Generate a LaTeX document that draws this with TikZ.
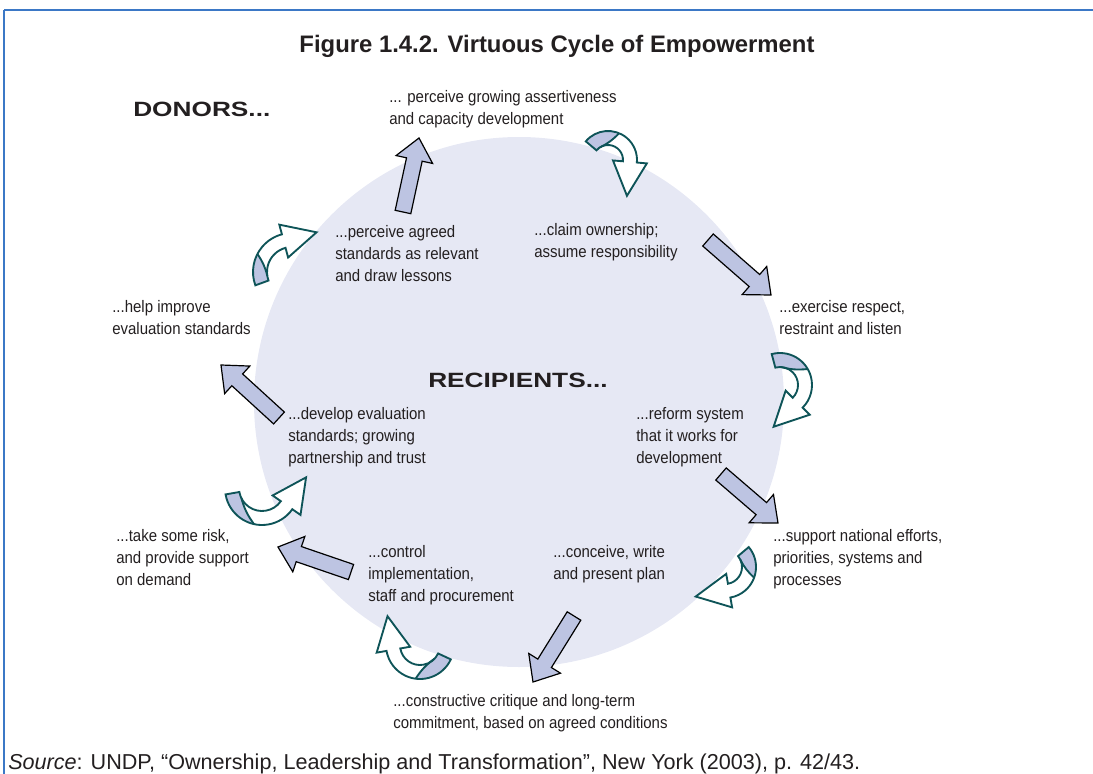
\documentclass[tikz,border=0pt]{standalone}
\usepackage{fontspec}
\setmainfont{Liberation Sans}
\newfontfamily\condf[FakeStretch=0.9]{Liberation Sans}
\newfontfamily\extf[FakeStretch=1.27]{Liberation Sans}
\usetikzlibrary{calc}
\definecolor{circfill}{HTML}{E6E8F4}
\definecolor{arrfill}{HTML}{BDC4E2}
\definecolor{tealc}{HTML}{0E5458}
\definecolor{framec}{HTML}{3B78C6}
\definecolor{txt}{HTML}{231F20}
\tikzset{
  lbl/.style={font=\condf\fontsize{12.5}{16.5}\selectfont, align=left, anchor=base west, inner sep=0pt, text=txt},
  headlbl/.style={font=\extf\bfseries\fontsize{15.5}{18}\selectfont, anchor=base west, inner sep=0pt, text=txt},
  blockarrow/.style={draw=black, fill=arrfill, line width=0.9pt, line join=miter},
  tealarrow/.style={draw=tealc, line width=1.4pt, line join=miter}
}
\newcommand\blockarr[2]{%
  \path ($(#2)!16.5pt!(#1)$) coordinate (#1c);
  \draw[blockarrow] ($(#1)!6pt!90:(#2)$) -- ($(#1c)!6pt!90:(#2)$) -- ($(#1c)!14pt!90:(#2)$) -- (#2)
     -- ($(#1c)!14pt!-90:(#2)$) -- ($(#1c)!6pt!-90:(#2)$) -- ($(#1)!6pt!-90:(#2)$) -- cycle;}
% #1 cx #2 cy #3 r #4 th0 #5 th1 #6 dir
\newcommand\curvarr[6]{%
  \begin{scope}[shift={(#1,#2)}]
  \pgfmathsetmacro\cro{#3+7}
  \pgfmathsetmacro\cri{#3-7}
  \pgfmathsetmacro\cwo{#3+17}
  \pgfmathsetmacro\cwi{#3-17}
  \pgfmathsetmacro\cmid{#4+0.5*(#5-#4)}
  \pgfmathsetmacro\ctw{#4+0.12*(#5-#4)}
  \pgfmathsetmacro\ctan{#5+90*#6}
  \pgfmathsetmacro\tipx{#3*cos(#5)+34*cos(\ctan)}
  \pgfmathsetmacro\tipy{#3*sin(#5)+34*sin(\ctan)}
  \def\cshape{(#4:\cro) arc[start angle=#4,end angle=#5,radius=\cro] -- (#5:\cwo) -- (\tipx,\tipy) -- (#5:\cwi) -- (#5:\cri) arc[start angle=#5,end angle=#4,radius=\cri] -- cycle}
  \fill[white] \cshape;
  \fill[arrfill] (#4:\cro) arc[start angle=#4,end angle=\cmid,radius=\cro] to[bend left=10] (\ctw:\cri) arc[start angle=\ctw,end angle=#4,radius=\cri] -- cycle;
  \draw[tealarrow] (\cmid:\cro) to[bend left=10] (\ctw:\cri);
  \draw[tealarrow] \cshape;
  \end{scope}}
\begin{document}
\begin{tikzpicture}[x=0.75pt,y=-0.75pt]
\useasboundingbox (0,0) rectangle (1093,774);
% frame
\draw[framec, line width=1.8pt] (4,10) -- (1093,10);
\draw[framec, line width=1pt] (4,10) -- (4,774);
% circle
\fill[circfill] (519,402) circle[radius=265];
% title
\node[font=\bfseries\fontsize{17.9}{20}\selectfont, text=txt, anchor=base, inner sep=0pt] (title) at (557,53) {Figure 1.4.2. Virtuous Cycle of Empowerment};
\node[headlbl] (donors) at (133,117) {DONORS...};
\node[headlbl] (recip) at (428,387) {RECIPIENTS...};
% labels (anchor = baseline of last line)
\node[lbl] (ttop) at (389,124) {... perceive growing assertiveness\\and capacity development};
\node[lbl] (tclaim) at (534,257) {...claim ownership;\\assume responsibility};
\node[lbl] (tagreed) at (335,281) {...perceive agreed\\standards as relevant\\and draw lessons};
\node[lbl] (thelp) at (112,334) {...help improve\\evaluation standards};
\node[lbl] (texer) at (779,334) {...exercise respect,\\restraint and listen};
\node[lbl] (tdev) at (288,463) {...develop evaluation\\standards; growing\\partnership and trust};
\node[lbl] (treform) at (636,463) {...reform system\\that it works for\\development};
\node[lbl] (trisk) at (116,585) {...take some risk,\\and provide support\\on demand};
\node[lbl] (tsupport) at (773,585) {...support national efforts,\\priorities, systems and\\processes};
\node[lbl] (tcontrol) at (368,601) {...control\\implementation,\\staff and procurement};
\node[lbl] (tconceive) at (553,579) {...conceive, write\\and present plan};
\node[lbl] (tconstr) at (393,728) {...constructive critique and long-term\\commitment, based on agreed conditions};
\node[font=\fontsize{16.2}{18}\selectfont, text=txt, anchor=base west, inner sep=0pt] (source) at (8,769) {\textit{Source}: UNDP, “Ownership, Leadership and Transformation”, New York (2003), p. 42/43.};
% block arrows
\coordinate (a1) at (403,212); \coordinate (b1) at (419,138);
\coordinate (a2) at (708,240); \coordinate (b2) at (771,295);
\coordinate (a3) at (721,474); \coordinate (b3) at (778,523);
\coordinate (a4) at (574,616); \coordinate (b4) at (533,682);
\coordinate (a5) at (351,572); \coordinate (b5) at (278,547);
\coordinate (a6) at (279,418); \coordinate (b6) at (221,365);
\blockarr{a1}{b1}
\blockarr{a2}{b2}
\blockarr{a3}{b3}
\blockarr{a4}{b4}
\blockarr{a5}{b5}
\blockarr{a6}{b6}
% curved arrows
\curvarr{608}{160}{22}{-140}{5}{1}
\curvarr{292}{272}{32}{160}{255}{1}
\curvarr{780}{385}{25}{-105}{45}{1}
\curvarr{262}{488}{30}{170}{35}{-1}
\curvarr{420}{645}{27}{25}{170}{1}
\curvarr{725}{567}{24}{-40}{80}{1}
\end{tikzpicture}
\end{document}
